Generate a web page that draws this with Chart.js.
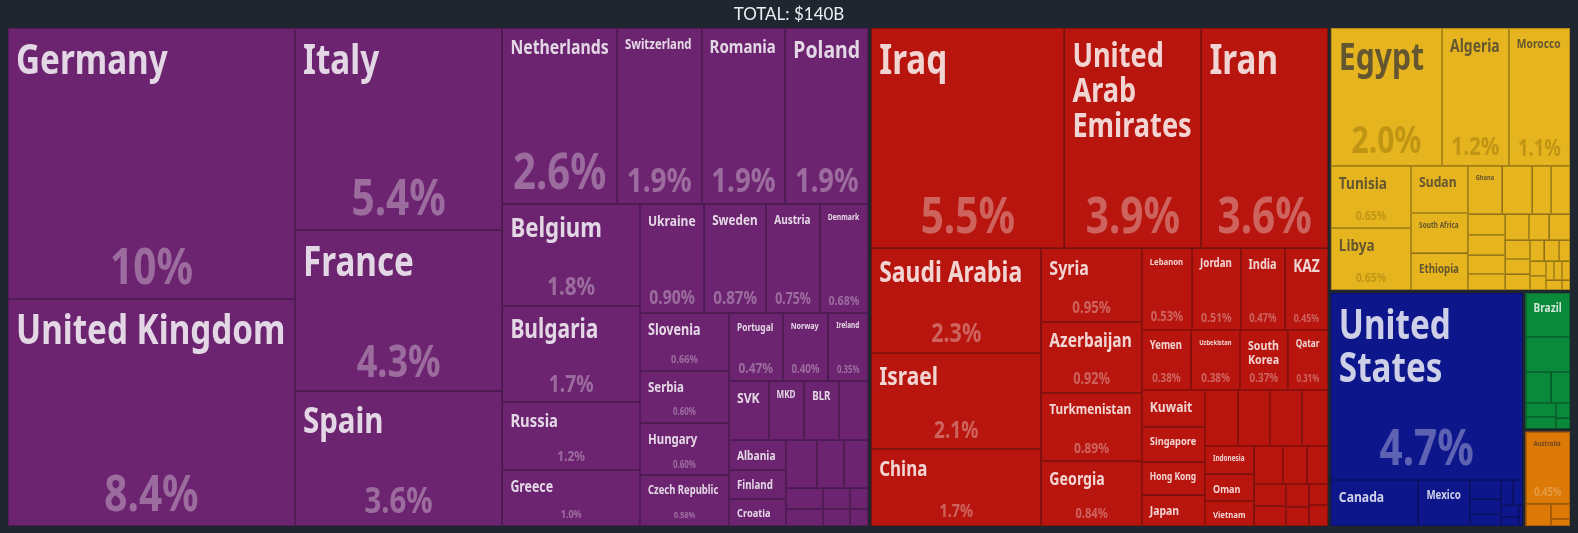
<!DOCTYPE html>
<html>
<head>
<meta charset="utf-8">
<script src="https://cdn.jsdelivr.net/npm/chart.js@4.4.0/dist/chart.umd.min.js"></script>
<style>
  html, body { margin: 0; padding: 0; background: #1f262f; }
  #wrap { width: 1578px; height: 533px; }
</style>
</head>
<body>
<div id="wrap"><canvas id="tree"></canvas></div>
<script>
// share of total (%); '' = cell too small to carry a label
const continents = ['Europe', 'Asia', 'Africa', 'North America', 'South America', 'Oceania'];

const europeNames = ['Germany', 'United Kingdom', 'Italy', 'France', 'Spain', 'Netherlands', 'Switzerland', 'Romania', 'Poland',
  'Belgium', 'Bulgaria', 'Russia', 'Greece', 'Ukraine', 'Sweden', 'Austria', 'Denmark', 'Slovenia', 'Serbia', 'Hungary',
  'Czech Republic', 'Portugal', 'Norway', 'Ireland', 'SVK', 'MKD', 'BLR', '', 'Albania', 'Finland', 'Croatia',
  '', '', '', '', '', '', '', '', ''];
const europeShares = [10.0, 8.4, 5.4, 4.3, 3.6, 2.6, 1.92, 1.90, 1.88,
  1.8, 1.7, 1.2, 1.0, 0.90, 0.87, 0.75, 0.68, 0.66, 0.602, 0.598,
  0.58, 0.47, 0.40, 0.35, 0.30, 0.27, 0.26, 0.225, 0.22, 0.21, 0.20,
  0.19, 0.17, 0.15, 0.10, 0.08, 0.07, 0.06, 0.05, 0.04];

const asiaNames = ['Iraq', 'United Arab Emirates', 'Iran', 'Saudi Arabia', 'Israel', 'China', 'Syria', 'Azerbaijan',
  'Turkmenistan', 'Georgia', 'Lebanon', 'Jordan', 'India', 'KAZ', 'Yemen', 'Uzbekistan', 'South Korea', 'Qatar',
  'Kuwait', 'Singapore', 'Hong Kong', 'Japan', '', '', '', '', 'Indonesia', 'Oman', 'Vietnam',
  '', '', '', '', '', '', '', '', ''];
const asiaShares = [5.5, 3.9, 3.6, 2.3, 2.1, 1.7, 0.95, 0.92,
  0.89, 0.84, 0.53, 0.51, 0.47, 0.45, 0.382, 0.378, 0.37, 0.31,
  0.30, 0.29, 0.27, 0.25, 0.24, 0.23, 0.23, 0.19, 0.18, 0.17, 0.16,
  0.14, 0.12, 0.10, 0.09, 0.08, 0.07, 0.06, 0.05, 0.05];

const africaNames = ['Egypt', 'Algeria', 'Morocco', 'Tunisia', 'Libya', 'Sudan', 'South Africa', 'Ethiopia', 'Ghana',
  '', '', '', '', '', '', '', '', '', '', '', '', '', '', '', '', '', '', '', '', '', '', ''];
const africaShares = [2.0, 1.2, 1.1, 0.654, 0.648, 0.35, 0.30, 0.27, 0.22,
  0.19, 0.12, 0.12, 0.10, 0.10, 0.09, 0.08, 0.08, 0.07, 0.07, 0.06, 0.05, 0.05, 0.04, 0.04,
  0.03, 0.03, 0.03, 0.02, 0.02, 0.02, 0.02, 0.01];

const northAmericaNames = ['United States', 'Canada', 'Mexico', '', '', '', '', '', '', '', ''];
const northAmericaShares = [4.7, 0.53, 0.31, 0.08, 0.06, 0.05, 0.04, 0.03, 0.03, 0.02, 0.01];

const southAmericaNames = ['Brazil', '', '', '', '', '', '', ''];
const southAmericaShares = [0.27, 0.22, 0.11, 0.08, 0.06, 0.05, 0.03, 0.02];

const oceaniaNames = ['Australia', '', '', ''];
const oceaniaShares = [0.45, 0.08, 0.04, 0.02];

const totalLabel = 'TOTAL: $140B';

const groups = [
  [europeNames, europeShares], [asiaNames, asiaShares], [africaNames, africaShares],
  [northAmericaNames, northAmericaShares], [southAmericaNames, southAmericaShares], [oceaniaNames, oceaniaShares]
];

// colours per continent: fill, name text, share text
const palette = {
  'Europe':        { fill: '#6c2470', name: 'rgba(255,255,255,0.82)', share: 'rgba(255,255,255,0.33)' },
  'Asia':          { fill: '#b7150e', name: 'rgba(255,255,255,0.82)', share: 'rgba(255,255,255,0.33)' },
  'Africa':        { fill: '#e5b41e', name: 'rgba(50,50,55,0.72)',   share: 'rgba(110,80,0,0.30)' },
  'North America': { fill: '#0e168c', name: 'rgba(255,255,255,0.80)', share: 'rgba(255,255,255,0.33)' },
  'South America': { fill: '#0a893a', name: 'rgba(255,255,255,0.80)', share: 'rgba(255,255,255,0.33)' },
  'Oceania':       { fill: '#dd7906', name: 'rgba(60,50,50,0.70)',   share: 'rgba(255,255,255,0.25)' }
};

const LABEL_FONT = "'Noto Sans', 'Open Sans', sans-serif";
const PAD = 8;
const GAP = 3;
const PHI = (1 + Math.sqrt(5)) / 2;
let SQ = 1; // horizontal squeeze to get a condensed face

const fmtShare = v => v.toPrecision(2) + '%';

function setFont(ctx, fs) { ctx.font = `bold ${fs}px ${LABEL_FONT}`; }
function textW(ctx, t) { return ctx.measureText(t).width * SQ; }
function drawText(ctx, t, x, y, align) {
  ctx.save();
  ctx.translate(x, y);
  ctx.scale(SQ, 1);
  ctx.textAlign = align;
  ctx.textBaseline = 'alphabetic';
  ctx.fillText(t, 0, 0);
  ctx.restore();
}

// d3-style squarified tiling
function squarify(nodes, x0, y0, x1, y1) {
  let value = nodes.reduce((s, n) => s + n.value, 0);
  let i0 = 0, i1 = 0;
  const n = nodes.length;
  while (i0 < n) {
    const dx = x1 - x0, dy = y1 - y0;
    let sumValue = nodes[i1++].value;
    let minValue = sumValue, maxValue = sumValue;
    const alpha = Math.max(dy / dx, dx / dy) / (value * PHI);
    let beta = sumValue * sumValue * alpha;
    let minRatio = Math.max(maxValue / beta, beta / minValue);
    for (; i1 < n; ++i1) {
      const nv = nodes[i1].value;
      sumValue += nv;
      if (nv < minValue) minValue = nv;
      if (nv > maxValue) maxValue = nv;
      beta = sumValue * sumValue * alpha;
      const newRatio = Math.max(maxValue / beta, beta / minValue);
      if (newRatio > minRatio) { sumValue -= nv; break; }
      minRatio = newRatio;
    }
    const row = nodes.slice(i0, i1);
    if (dx < dy) {
      const yy = i1 < n ? y0 + dy * sumValue / value : y1;
      let x = x0;
      row.forEach(nd => { const w = dx * nd.value / sumValue; nd.x0 = x; nd.x1 = x + w; nd.y0 = y0; nd.y1 = yy; x += w; });
      y0 = yy;
    } else {
      const xx = i1 < n ? x0 + dx * sumValue / value : x1;
      let y = y0;
      row.forEach(nd => { const h = dy * nd.value / sumValue; nd.x0 = x0; nd.x1 = xx; nd.y0 = y; nd.y1 = y + h; y += h; });
      x0 = xx;
    }
    value -= sumValue;
    i0 = i1;
  }
}

function fitName(ctx, text, w, h, withShare) {
  if (!text) return null;
  const availW = w - 2 * PAD;
  if (availW < 10) return null;
  const maxFs = withShare ? Math.min(41, 0.27 * h) : Math.min(15, 0.42 * h);
  const blockMax = withShare ? 0.5 * h : h - 2 * PAD + 4;
  const words = text.split(' ');
  for (let fs = maxFs; fs >= 7; fs -= 0.5) {
    setFont(ctx, fs);
    if (textW(ctx, text) <= availW) return { fs, lines: [text] };
    if (!withShare) continue;
    if (words.some(wd => textW(ctx, wd) > availW)) continue;
    const lines = [];
    let cur = '';
    words.forEach(wd => {
      const t = cur ? cur + ' ' + wd : wd;
      if (textW(ctx, t) <= availW) cur = t; else { lines.push(cur); cur = wd; }
    });
    lines.push(cur);
    if (lines.length * fs * 1.05 <= blockMax) return { fs, lines };
  }
  return null;
}

const treemapPlugin = {
  id: 'treemap',
  beforeDatasetsDraw(chart) {
    const { ctx, chartArea, scales } = chart;
    const W = chartArea.right - chartArea.left, H = chartArea.bottom - chartArea.top;
    const xs = scales.x, ys = scales.y;

    setFont(ctx, 100);
    SQ = 1;
    SQ = Math.min(1, 370 / textW(ctx, 'Germany'));

    const tops = continents.map((c, i) => {
      const kids = groups[i][0].map((nm, j) => ({ name: nm, value: groups[i][1][j] }))
        .sort((a, b) => b.value - a.value);
      return { name: c, value: kids.reduce((s, k) => s + k.value, 0), children: kids };
    }).sort((a, b) => b.value - a.value);

    squarify(tops, -GAP / 2, -GAP / 2, W + GAP / 2, H + GAP / 2);

    ctx.save();
    tops.forEach(top => {
      const x0 = top.x0 + GAP / 2, y0 = top.y0 + GAP / 2, x1 = top.x1 - GAP / 2, y1 = top.y1 - GAP / 2;
      squarify(top.children, x0, y0, x1, y1);
      const pal = palette[top.name];
      top.children.forEach(c => {
        const px0 = xs.getPixelForValue(c.x0 / W), px1 = xs.getPixelForValue(c.x1 / W);
        const py0 = ys.getPixelForValue(c.y0 / H), py1 = ys.getPixelForValue(c.y1 / H);
        const w = px1 - px0, h = py1 - py0;
        ctx.fillStyle = pal.fill;
        ctx.fillRect(px0, py0, w, h);
        ctx.strokeStyle = 'rgba(0,0,0,0.22)';
        ctx.lineWidth = 1;
        ctx.strokeRect(Math.round(px0) + 0.5, Math.round(py0) + 0.5, Math.round(px1) - Math.round(px0) - 1, Math.round(py1) - Math.round(py0) - 1);

        let withShare = !!c.name && (h >= 59 || (h >= 48 && w >= 60)) && w >= 34;
        let shareFs = 0;
        const shareText = fmtShare(c.value);
        if (withShare) {
          setFont(ctx, 1);
          const em = textW(ctx, shareText);
          shareFs = Math.min(50, 0.32 * h - 7, (w - 2 * PAD) * 0.95 / em);
          if (shareFs < 7.5) withShare = false;
        }
        const lab = fitName(ctx, c.name, w, h, withShare);
        if (!lab) return;
        ctx.save();
        ctx.beginPath();
        ctx.rect(px0, py0, w, h);
        ctx.clip();
        setFont(ctx, lab.fs);
        ctx.fillStyle = pal.name;
        lab.lines.forEach((ln, k) => drawText(ctx, ln, px0 + PAD, py0 + PAD + 0.92 * lab.fs + k * lab.fs * 1.05, 'left'));
        if (withShare) {
          setFont(ctx, shareFs);
          ctx.fillStyle = pal.share;
          drawText(ctx, shareText, px0 + w / 2, py1 - (6 + 0.18 * shareFs), 'center');
        }
        ctx.restore();
      });
    });
    ctx.restore();
  }
};

new Chart(document.getElementById('tree'), {
  type: 'scatter',
  data: { datasets: [] },
  options: {
    responsive: true,
    maintainAspectRatio: false,
    animation: false,
    layout: { padding: { left: 8, right: 8, top: 0, bottom: 7 } },
    scales: {
      x: { type: 'linear', min: 0, max: 1, display: false },
      y: { type: 'linear', min: 0, max: 1, reverse: true, display: false }
    },
    plugins: {
      legend: { display: false },
      tooltip: { enabled: false },
      title: {
        display: true,
        text: totalLabel,
        color: '#eceff2',
        font: { family: 'Lato, "Open Sans", sans-serif', size: 17, weight: 'normal', lineHeight: 1.2 },
        padding: { top: 4, bottom: 3.6 }
      }
    }
  },
  plugins: [treemapPlugin]
});
</script>
</body>
</html>
